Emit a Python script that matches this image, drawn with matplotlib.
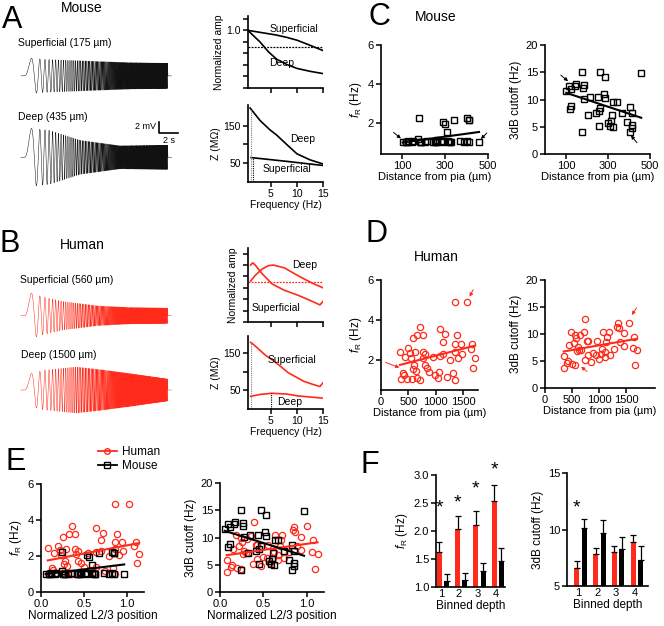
import numpy as np
import matplotlib
matplotlib.use("Agg")
import matplotlib.pyplot as plt
from matplotlib.lines import Line2D

plt.rcParams['font.family'] = 'Liberation Sans'
plt.rcParams['mathtext.fontset'] = 'custom'
plt.rcParams['mathtext.rm'] = 'Liberation Sans'
plt.rcParams['mathtext.it'] = 'Liberation Sans:italic'

RED = '#ff2a1a'
W, H = 664, 626

# ---------------- data ----------------
# chirp response envelopes (mV half-amplitude at given times, s)
ms_t = [0, 2, 5, 8, 11, 15]
ms_amp = [3.3, 3.0, 2.8, 2.6, 2.4, 2.3]
md_t = [0, 2.6, 5.8, 10, 15]
md_amp = [5.4, 4.9, 3.1, 2.1, 2.2]
hs_t = [0, 2, 4, 7.7, 11, 15]
hs_amp = [4.5, 3.4, 2.6, 1.8, 1.5, 1.4]
hd_t = [0, 2, 5.4, 8, 11, 15]
hd_amp = [2.7, 3.6, 4.2, 3.7, 3.0, 2.0]

# normalized amplitude vs frequency
m_sup_f = [0.6, 2, 4, 6, 8, 10, 12, 15]
m_sup_amp = [1.0, 0.98, 0.95, 0.92, 0.88, 0.83, 0.76, 0.65]
m_deep_f = [0.6, 1.5, 2.9, 4.5, 6.1, 8, 10, 12.5, 15]
m_deep_amp = [1.0, 0.92, 0.8, 0.63, 0.5, 0.41, 0.34, 0.29, 0.25]
h_sup_f = [1.1, 1.5, 2.0, 3.3, 5.2, 7.5, 10.2, 12.5, 14.4, 15]
h_sup_amp = [1.0, 1.04, 1.0, 0.85, 0.67, 0.56, 0.47, 0.38, 0.30, 0.36]
h_deep_f = [1.1, 2.0, 3.3, 4.5, 5.5, 7.6, 9.5, 11.3, 13, 15]
h_deep_amp = [0.72, 0.82, 0.93, 0.99, 1.0, 0.95, 0.85, 0.76, 0.68, 0.6]

# impedance vs frequency
mz_deep_f = [1.0, 2.9, 4.8, 6.1, 8.1, 10, 12.5, 15]
mz_deep = [197, 164, 139, 125, 99, 75, 59, 48]
mz_sup_f = [1.2, 8, 15]
mz_sup = [65, 55, 44]
hz_sup_f = [1.1, 1.5, 2.0, 2.8, 4, 5.2, 6.5, 8.3, 10, 11.3, 13, 14.4, 15]
hz_sup = [178, 174, 168, 158, 143, 132, 118, 97, 84, 74, 66, 60, 70]
hz_deep_f = [1.1, 3, 5.2, 8, 10.2, 12.5, 15]
hz_deep = [34, 39, 42, 40, 35, 32, 29]

# mouse cells: depth (um), resonance freq (Hz), 3dB cutoff (Hz)
mouse_depth = [101, 115, 125, 118, 125, 143, 149, 176, 182, 185, 188, 174, 204, 215, 250,
               243, 257, 257, 264, 264, 282, 288, 288, 299, 310, 313, 319, 326, 343, 324,
               368, 403, 413, 389, 403, 413, 413, 458]
mouse_fr = [1.0, 1.0, 1.05, 1.0, 1.0, 1.0, 1.05, 2.25, 1.0, 1.0, 1.0, 1.15, 1.0, 1.05, 1.0,
            1.0, 1.05, 1.0, 1.1, 1.0, 1.05, 2.03, 1.0, 1.93, 1.52, 1.05, 1.0, 1.0, 2.17, 1.0,
            1.05, 2.25, 2.17, 1.0, 1.05, 2.17, 1.0, 1.0]
mouse_cut = [11.6, 12.5, 12.0, 8.3, 8.8, 12.4, 12.8, 15.0, 12.2, 12.7, 10.1, 4.0, 7.2, 10.4, 10.4,
             7.5, 7.8, 5.1, 8.4, 15.0, 11.0, 10.2, 14.2, 5.7, 5.1, 6.1, 7.2, 9.6, 9.6, 5.0,
             7.5, 8.6, 7.6, 5.8, 4.1, 5.4, 4.7, 14.9]

# human cells
human_depth_fr = [347, 360, 439, 500, 530, 549, 579, 622, 664, 713, 762, 762, 774, 603, 591,
                  640, 408, 420, 469, 561, 652, 713, 805, 847, 884, 805, 957, 987, 1048, 1066,
                  1079, 1140, 1170, 1079, 1140, 1201, 1262, 1322, 1353, 1353, 1353, 1353, 1383,
                  1414, 1456, 1475, 1566, 1639, 1670, 1688, 1718]
human_fr = [2.42, 1.03, 2.17, 2.58, 2.33, 2.08, 3.08, 2.4, 3.25, 3.67, 3.25, 2.4, 2.1, 1.75, 1.55,
            1.45, 1.33, 1.25, 1.05, 1.05, 1.08, 1.0, 1.75, 1.6, 1.4, 2.3, 2.17, 1.25, 1.1, 1.4,
            3.55, 2.9, 3.3, 2.2, 2.3, 1.15, 2.0, 1.33, 4.88, 2.8, 2.4, 1.0, 3.25,
            2.08, 2.8, 2.3, 4.88, 2.55, 2.78, 1.6, 2.1]
human_depth_cut = [344, 344, 406, 424, 437, 486, 498, 529, 560, 560, 572, 590, 609, 633, 664,
                   652, 713, 744, 732, 775, 793, 793, 855, 879, 959, 941, 990, 1039, 1052, 1070,
                   1101, 1113, 1132, 1150, 1175, 1205, 1267, 1328, 1347, 1359, 1390, 1451, 1451,
                   1544, 1617, 1636, 1654, 1697]
human_cut = [5.9, 3.7, 4.6, 5.0, 7.9, 10.4, 4.4, 8.4, 9.9, 4.2, 9.2, 6.9, 7.6, 7.1, 7.1,
             9.8, 10.3, 12.8, 5.1, 8.7, 8.7, 6.1, 4.8, 6.4, 8.7, 6.2, 5.4, 6.3, 7.3, 10.4,
             5.8, 6.7, 8.5, 9.5, 10.4, 6.2, 7.3, 11.3, 12.0, 11.1, 8.5, 10.1, 7.7,
             12.1, 7.4, 9.5, 4.2, 7.0]

# binned depth
bins = [1, 2, 3, 4]
fr_human_bin = [1.63, 2.03, 2.10, 2.54]
fr_human_err = [0.18, 0.23, 0.26, 0.29]
fr_mouse_bin = [1.11, 1.12, 1.28, 1.47]
fr_mouse_err = [0.12, 0.13, 0.15, 0.22]
cut_human_bin = [6.6, 7.8, 8.0, 8.9]
cut_human_err = [0.6, 0.6, 0.5, 0.6]
cut_mouse_bin = [10.1, 9.7, 8.3, 7.3]
cut_mouse_err = [0.8, 1.1, 1.0, 1.2]

# ---------------- helpers ----------------
fig = plt.figure(figsize=(6.64, 6.26), dpi=100)


def box(x0, y0, x1, y1):
    return fig.add_axes([x0 / W, 1 - y1 / H, (x1 - x0) / W, (y1 - y0) / H])


def ftxt(x, y, s, **kw):
    kw.setdefault('va', 'center')
    fig.text(x / W, 1 - y / H, s, **kw)


def style(ax, size=8):
    for s in ['top', 'right']:
        ax.spines[s].set_visible(False)
    for s in ['left', 'bottom']:
        ax.spines[s].set_linewidth(1.2)
    ax.tick_params(direction='out', length=3.5, width=1.1, labelsize=size, pad=1.5)


def fit_line(ax, x, y, color):
    x = np.asarray(x, float)
    p = np.polyfit(x, y, 1)
    xs = np.array([x.min(), x.max()])
    ax.plot(xs, np.polyval(p, xs), color=color, lw=1.5)


def arrow(ax, xy, off, color='k'):
    ax.annotate('', xy=xy, xytext=off, textcoords='offset points',
                arrowprops=dict(arrowstyle='-|>', lw=0.7, color=color,
                                mutation_scale=5, shrinkA=0, shrinkB=1))


def chirp(ax, t_k, a_k, center, color):
    t = np.linspace(-0.4, 15.4, 60000)
    env = np.interp(t, t_k, a_k)
    env = np.where((t >= 0) & (t <= 15), env, 0)
    ax.plot(t, center + env * np.sin(np.pi * t ** 2), color=color, lw=0.35)


FR = r'$f_{\mathrm{R}}$ (Hz)'

# ---------------- panel A ----------------
ftxt(12, 20, 'A', fontsize=22, ha='center')
ftxt(82, 8, 'Mouse', fontsize=10, ha='center')
ftxt(18, 43, 'Superficial (175 µm)', fontsize=7.5)
ftxt(18, 117, 'Deep (435 µm)', fontsize=7.5)

axA = box(20, 50, 182, 192)
axA.set_xlim(-0.5, 16.5)
axA.set_ylim(-25.8, 0)
axA.axis('off')
chirp(axA, ms_t, ms_amp, -4.7, '#111111')
chirp(axA, md_t, md_amp, -19.5, '#111111')
axA.plot([14.1, 14.1, 16.1], [-13.1, -15.1, -15.1], color='k', lw=1.2)
axA.text(13.8, -13.9, '2 mV', fontsize=6.5, ha='right', va='center')
axA.text(15.1, -15.6, '2 s', fontsize=6.5, ha='center', va='top')

axAa = box(248, 16, 323, 88)
style(axAa, 7.5)
axAa.plot(m_sup_f, m_sup_amp, color='k', lw=1.2)
axAa.plot(m_deep_f, m_deep_amp, color='k', lw=1.2)
axAa.axhline(0.707, color='k', lw=0.9, ls=(0, (1.5, 1)))
axAa.set_xlim(0.6, 15)
axAa.set_ylim(0, 1.25)
axAa.set_yticks(np.arange(0, 1.21, 0.2))
axAa.set_yticklabels(['', '', '', '', '', '1.0', ''])
axAa.set_xticks([5, 10, 15])
axAa.set_xticklabels([])
axAa.set_ylabel('Normalized amp', fontsize=7.5, labelpad=2)
axAa.text(9.5, 1.03, 'Superficial', fontsize=7.5, ha='center', va='center')
axAa.text(7.0, 0.43, 'Deep', fontsize=7.5, ha='center', va='center')

axAz = box(248, 105, 323, 182)
style(axAz, 7.5)
axAz.plot(mz_deep_f, mz_deep, color='k', lw=1.2)
axAz.plot(mz_sup_f, mz_sup, color='k', lw=1.2)
axAz.vlines(1.2, 0, 195, color='0.5', lw=0.8, ls=(0, (1, 1)))
axAz.vlines(1.5, 0, 64, color='k', lw=0.8, ls=(0, (1, 1)))
axAz.set_xlim(0.6, 15)
axAz.set_ylim(0, 205)
axAz.set_yticks([50, 100, 150])
axAz.set_yticklabels(['50', '', '150'])
axAz.set_xticks([5, 10, 15])
axAz.set_ylabel('Z (MΩ)', fontsize=7.5, labelpad=2)
axAz.set_xlabel('Frequency (Hz)', fontsize=7.5, labelpad=1)
axAz.text(11.0, 115, 'Deep', fontsize=7.5, ha='center', va='center')
axAz.text(8.0, 35, 'Superficial', fontsize=7.5, ha='center', va='center')

# ---------------- panel B ----------------
ftxt(10, 244, 'B', fontsize=22, ha='center')
ftxt(82, 245, 'Human', fontsize=10, ha='center')
ftxt(20, 280, 'Superficial (560 µm)', fontsize=7.5)
ftxt(21, 355, 'Deep (1500 µm)', fontsize=7.5)

axB = box(20, 280, 182, 420)
axB.set_xlim(-0.5, 16.5)
axB.set_ylim(-25.45, 0)
axB.axis('off')
chirp(axB, hs_t, hs_amp, -6.5, RED)
chirp(axB, hd_t, hd_amp, -20.0, RED)

axBa = box(248, 248, 323, 322)
style(axBa, 7.5)
axBa.plot(h_sup_f, h_sup_amp, color=RED, lw=1.2)
axBa.plot(h_deep_f, h_deep_amp, color=RED, lw=1.2)
axBa.axhline(0.707, color=RED, lw=0.9, ls=(0, (1.5, 1)))
axBa.set_xlim(0.6, 15)
axBa.set_ylim(0, 1.3)
axBa.set_yticks(np.arange(0, 1.21, 0.2))
axBa.set_yticklabels([])
axBa.set_xticks([5, 10, 15])
axBa.set_xticklabels([])
axBa.set_ylabel('Normalized amp', fontsize=7.5, labelpad=2)
axBa.text(11.5, 1.0, 'Deep', fontsize=7.5, ha='center', va='center')
axBa.text(6.0, 0.24, 'Superficial', fontsize=7.5, ha='center', va='center')

axBz = box(248, 336, 323, 409)
style(axBz, 7.5)
axBz.plot(hz_sup_f, hz_sup, color=RED, lw=1.2)
axBz.plot(hz_deep_f, hz_deep, color=RED, lw=1.2)
axBz.vlines(1.2, 0, 176, color='0.5', lw=0.8, ls=(0, (1, 1)))
axBz.vlines(5.0, 0, 42, color='k', lw=0.8, ls=(0, (1, 1)))
axBz.set_xlim(0.6, 15)
axBz.set_ylim(0, 195)
axBz.set_yticks([50, 100, 150])
axBz.set_yticklabels(['50', '', '150'])
axBz.set_xticks([5, 10, 15])
axBz.set_ylabel('Z (MΩ)', fontsize=7.5, labelpad=2)
axBz.set_xlabel('Frequency (Hz)', fontsize=7.5, labelpad=1)
axBz.text(9.0, 130, 'Superficial', fontsize=7.5, ha='center', va='center')
axBz.text(8.5, 18, 'Deep', fontsize=7.5, ha='center', va='center')

# ---------------- panel C ----------------
ftxt(379, 17, 'C', fontsize=22, ha='center')
ftxt(436, 17, 'Mouse', fontsize=10, ha='center')

mk_sq = dict(marker='s', ms=4.5, mfc='none', mec='k', mew=1.0, ls='none')
mk_ci = dict(marker='o', ms=4.5, mfc='none', mec=RED, mew=0.9, ls='none')

axC1 = box(381, 45, 488, 154)
style(axC1)
axC1.plot(mouse_depth, mouse_fr, **mk_sq)
fit_line(axC1, mouse_depth, mouse_fr, 'k')
axC1.set_xlim(0, 500)
axC1.set_ylim(0.4, 6)
axC1.set_yticks([2, 4, 6])
axC1.set_xticks([100, 300, 500])
axC1.set_ylabel(FR, fontsize=8.5, labelpad=3)
axC1.set_xlabel('Distance from pia (µm)', fontsize=8, labelpad=1)
arrow(axC1, (98, 1.15), (-6, 5))
arrow(axC1, (462, 1.12), (5, 5))

axC2 = box(545, 45, 650, 154)
style(axC2)
axC2.plot(mouse_depth, mouse_cut, **mk_sq)
fit_line(axC2, mouse_depth, mouse_cut, 'k')
axC2.set_xlim(0, 500)
axC2.set_ylim(0, 20)
axC2.set_yticks([0, 5, 10, 15, 20])
axC2.set_xticks([100, 300, 500])
axC2.set_ylabel('3dB cutoff (Hz)', fontsize=8.5, labelpad=3)
axC2.set_xlabel('Distance from pia (µm)', fontsize=8, labelpad=1)
arrow(axC2, (115, 13.2), (-6, 5))
arrow(axC2, (405, 3.6), (5, -6))

# ---------------- panel D ----------------
ftxt(377, 234, 'D', fontsize=22, ha='center')
ftxt(436, 257, 'Human', fontsize=10, ha='center')

axD1 = box(381, 280, 478, 390)
style(axD1)
axD1.plot(human_depth_fr, human_fr, **mk_ci)
fit_line(axD1, human_depth_fr, human_fr, RED)
axD1.set_xlim(0, 1775)
axD1.set_ylim(0.5, 6)
axD1.set_yticks([2, 4, 6])
axD1.set_xticks([0, 500, 1000, 1500])
axD1.set_ylabel(FR, fontsize=8.5, labelpad=3)
axD1.set_xlabel('Distance from pia (µm)', fontsize=8, labelpad=1)
arrow(axD1, (360, 1.6), (-11, 4), RED)
arrow(axD1, (1610, 5.1), (3, 6), RED)

axD2 = box(545, 280, 655, 388)
style(axD2)
axD2.plot(human_depth_cut, human_cut, **mk_ci)
fit_line(axD2, human_depth_cut, human_cut, RED)
axD2.set_xlim(0, 2030)
axD2.set_ylim(0, 20)
axD2.set_yticks([0, 5, 10, 15, 20])
axD2.set_xticks([0, 500, 1000, 1500])
axD2.set_ylabel('3dB cutoff (Hz)', fontsize=8.5, labelpad=3)
axD2.set_xlabel('Distance from pia (µm)', fontsize=8, labelpad=1)
arrow(axD2, (646, 4.1), (5, -4), RED)
arrow(axD2, (1587, 13.3), (4, 6), RED)

# ---------------- panel E ----------------
ftxt(16, 462, 'E', fontsize=22, ha='center')
mouse_norm = (np.array(mouse_depth) - 80) / 390
human_norm_fr = (np.array(human_depth_fr) - 245) / 1290
human_norm_cut = (np.array(human_depth_cut) - 245) / 1290

axE1 = box(41, 484, 144, 592)
style(axE1)
axE1.plot(human_norm_fr, human_fr, **mk_ci)
axE1.plot(mouse_norm, mouse_fr, **mk_sq)
fit_line(axE1, human_norm_fr, human_fr, RED)
fit_line(axE1, mouse_norm, mouse_fr, 'k')
axE1.set_xlim(0, 1.2)
axE1.set_ylim(0, 6)
axE1.set_yticks([0, 2, 4, 6])
axE1.set_xticks([0, 0.5, 1.0])
axE1.set_xticklabels(['0.0', '0.5', '1.0'])
axE1.set_ylabel(FR, fontsize=8.5, labelpad=3)
axE1.set_xlabel('Normalized L2/3 position', fontsize=8.5, labelpad=1)

axE2 = box(220, 483, 324, 592)
style(axE2)
axE2.plot(human_norm_cut, human_cut, **mk_ci)
axE2.plot(mouse_norm, mouse_cut, **mk_sq)
fit_line(axE2, human_norm_cut, human_cut, RED)
fit_line(axE2, mouse_norm, mouse_cut, 'k')
axE2.set_xlim(0, 1.2)
axE2.set_ylim(0, 20)
axE2.set_yticks([0, 5, 10, 15, 20])
axE2.set_xticks([0, 0.5, 1.0])
axE2.set_xticklabels(['0.0', '0.5', '1.0'])
axE2.set_ylabel('3dB cutoff (Hz)', fontsize=8.5, labelpad=3)
axE2.set_xlabel('Normalized L2/3 position', fontsize=8.5, labelpad=1)

handles = [Line2D([], [], color=RED, lw=1.3, marker='o', ms=4, mfc='none', mec=RED),
           Line2D([], [], color='k', lw=1.3, marker='s', ms=4, mfc='none', mec='k')]
axE1.legend(handles, ['Human', 'Mouse'], loc='upper left',
            bbox_to_anchor=(98 / W, 1 - 446 / H), bbox_transform=fig.transFigure,
            frameon=False, fontsize=8.5, handlelength=1.6, labelspacing=0.15,
            handletextpad=0.4, borderpad=0, borderaxespad=0)

# ---------------- panel F ----------------
ftxt(370, 465, 'F', fontsize=22, ha='center')
xb = np.array(bins, float)
bw = 0.27

axF1 = box(436, 475, 505, 587)
style(axF1)
axF1.bar(xb, fr_human_bin, bw, bottom=0, color=RED, yerr=[np.zeros(4), fr_human_err],
         error_kw=dict(lw=0.9, capsize=2, capthick=0.9))
axF1.bar(xb + 0.4, fr_mouse_bin, bw, color='k', yerr=[np.zeros(4), fr_mouse_err],
         error_kw=dict(lw=0.9, capsize=2, capthick=0.9))
axF1.set_xlim(0.82, 4.6)
axF1.set_ylim(1, 3)
axF1.set_yticks([1.0, 1.5, 2.0, 2.5, 3.0])
axF1.set_yticklabels(['1.0', '1.5', '2.0', '2.5', '3.0'])
axF1.set_xticks(xb + 0.08)
axF1.set_xticklabels(['1', '2', '3', '4'])
axF1.tick_params(axis='x', length=0)
axF1.set_ylabel(FR, fontsize=8.5, labelpad=3)
axF1.set_xlabel('Binned depth', fontsize=8.5, labelpad=1)
for xi, ys in zip(xb, [2.41, 2.5, 2.75, 3.09]):
    axF1.text(xi, ys, '*', fontsize=14, ha='center', va='center', clip_on=False)

axF2 = box(567, 473, 648, 586)
style(axF2)
axF2.bar(xb, cut_human_bin, bw, color=RED, yerr=[np.zeros(4), cut_human_err],
         error_kw=dict(lw=0.9, capsize=2, capthick=0.9))
axF2.bar(xb + 0.4, cut_mouse_bin, bw, color='k', yerr=[np.zeros(4), cut_mouse_err],
         error_kw=dict(lw=0.9, capsize=2, capthick=0.9))
axF2.set_xlim(0.47, 4.8)
axF2.set_ylim(5, 15)
axF2.set_yticks([5, 10, 15])
axF2.set_xticks(xb + 0.08)
axF2.set_xticklabels(['1', '2', '3', '4'])
axF2.tick_params(axis='x', length=0)
axF2.set_ylabel('3dB cutoff (Hz)', fontsize=8.5, labelpad=3)
axF2.set_xlabel('Binned depth', fontsize=8.5, labelpad=1)
axF2.text(1.0, 11.9, '*', fontsize=14, ha='center', va='center')

fig.savefig('out.png', dpi=100)
